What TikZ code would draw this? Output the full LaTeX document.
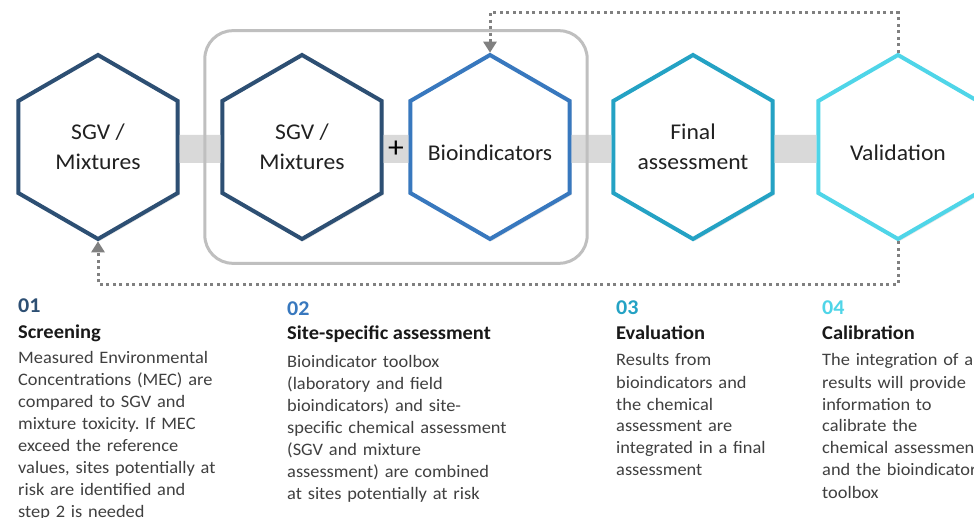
\documentclass[tikz,border=0pt]{standalone}
\usepackage{fontspec}
\setmainfont{Carlito}[FakeStretch=1.05]
\usetikzlibrary{shapes.geometric,arrows.meta,fit,shadows}

\definecolor{stepnavy}{HTML}{2D4F73}
\definecolor{stepblue}{HTML}{3878BE}
\definecolor{stepteal}{HTML}{24A2C4}
\definecolor{stepcyan}{HTML}{4FD5E8}

\begin{document}
\frenchspacing
\begin{tikzpicture}[x=1pt,y=-1pt,
hexa/.style = {% step hexagons, corner 1 on top
    shape=regular polygon, regular polygon sides=6,
    shape border rotate=30, minimum size=184pt, inner sep=-25pt,
    line width=4pt, draw=#1, fill=white, text=black!87,
    font=\fontsize{22.5}{30}\selectfont, align=center,
    execute at begin node={\rule{0pt}{27pt}},
    drop shadow={opacity=0.18, shadow xshift=2pt, shadow yshift=-2pt},
            },
band/.style = {line width=28pt, draw=black!15,
    transform canvas={yshift=-2pt}},
feedback/.style = {% dotted arrows going back
    draw=black!50, line width=3pt, dash pattern=on 3pt off 3.5pt,
    -{Triangle[width=13pt,length=11pt]},
            },
num/.style  = {anchor=base west, inner sep=0pt, text=#1,
    font=\fontsize{21}{24}\selectfont\bfseries},
head/.style = {anchor=base west, inner sep=0pt, text=black!90,
    font=\fontsize{19.5}{24}\selectfont\bfseries},
txt/.style  = {anchor=base west, inner sep=0pt, text=black!75,
    text width=300pt, align=left,
    font=\fontsize{17.5}{22}\selectfont},
                    ]
\clip (0,0) rectangle (974,518);
\fill[white] (0,0) rectangle (974,518);

% the five steps
\node[hexa=stepnavy] (sgv1)  at (98,147)  {SGV /\\Mixtures};
\node[hexa=stepnavy] (sgv2)  at (302,147) {SGV /\\Mixtures};
\node[hexa=stepblue] (bio)   at (490,147) {Bioindicators};
\node[hexa=stepteal] (final) at (693,147) {Final\\assessment};
\node[hexa=stepcyan] (valid) at (898,147) {Validation};

% grey bars between them
\draw[band] (sgv1) -- (sgv2);
\draw[band] (sgv2) -- node[font=\fontsize{30}{30}\selectfont] {+} (bio);
\draw[band] (bio) -- (final);
\draw[band] (final) -- (valid);

% frame round step 2
\node[draw=black!25, line width=3pt, rounded corners=28pt,
      inner xsep=15.5pt, inner ysep=22pt,
      fit=(sgv2.corner 2)(bio.corner 6)(bio.corner 1)(bio.corner 4)] (site) {};

% loops back
\draw[feedback] (valid.corner 1) -- ++(0,-40) -| (bio.corner 1);
\draw[feedback] (valid.corner 4) -- ++(0,43) -| (sgv1.corner 4);

% captions
\node[num=stepnavy] (n1) at (18,313) {01};
\node[head] (h1) at (18,338) {Screening};
\node[txt]  (t1) at (18,363) {Measured Environmental\\Concentrations (MEC) are\\compared to SGV and\\mixture toxicity. If MEC\\exceed the reference\\values, sites potentially at\\risk are identified and\\step 2 is needed};

\node[num=stepblue] (n2) at (287,316) {02};
\node[head] (h2) at (287,340) {Site-specific assessment};
\node[txt]  (t2) at (287,367) {Bioindicator toolbox\\(laboratory and field\\bioindicators) and site-\\specific chemical assessment\\(SGV and mixture\\assessment) are combined\\at sites potentially at risk};

\node[num=stepteal] (n3) at (616,315) {03};
\node[head] (h3) at (616,340) {Evaluation};
\node[txt]  (t3) at (616,366) {Results from\\bioindicators and\\the chemical\\assessment are\\integrated in a final\\assessment};

\node[num=stepcyan] (n4) at (822,315) {04};
\node[head] (h4) at (822,340) {Calibration};
\node[txt]  (t4) at (822,366) {The integration of all\\results will provide\\information to\\calibrate the\\chemical assessment\\and the bioindicator\\toolbox};

\end{tikzpicture}
\end{document}
